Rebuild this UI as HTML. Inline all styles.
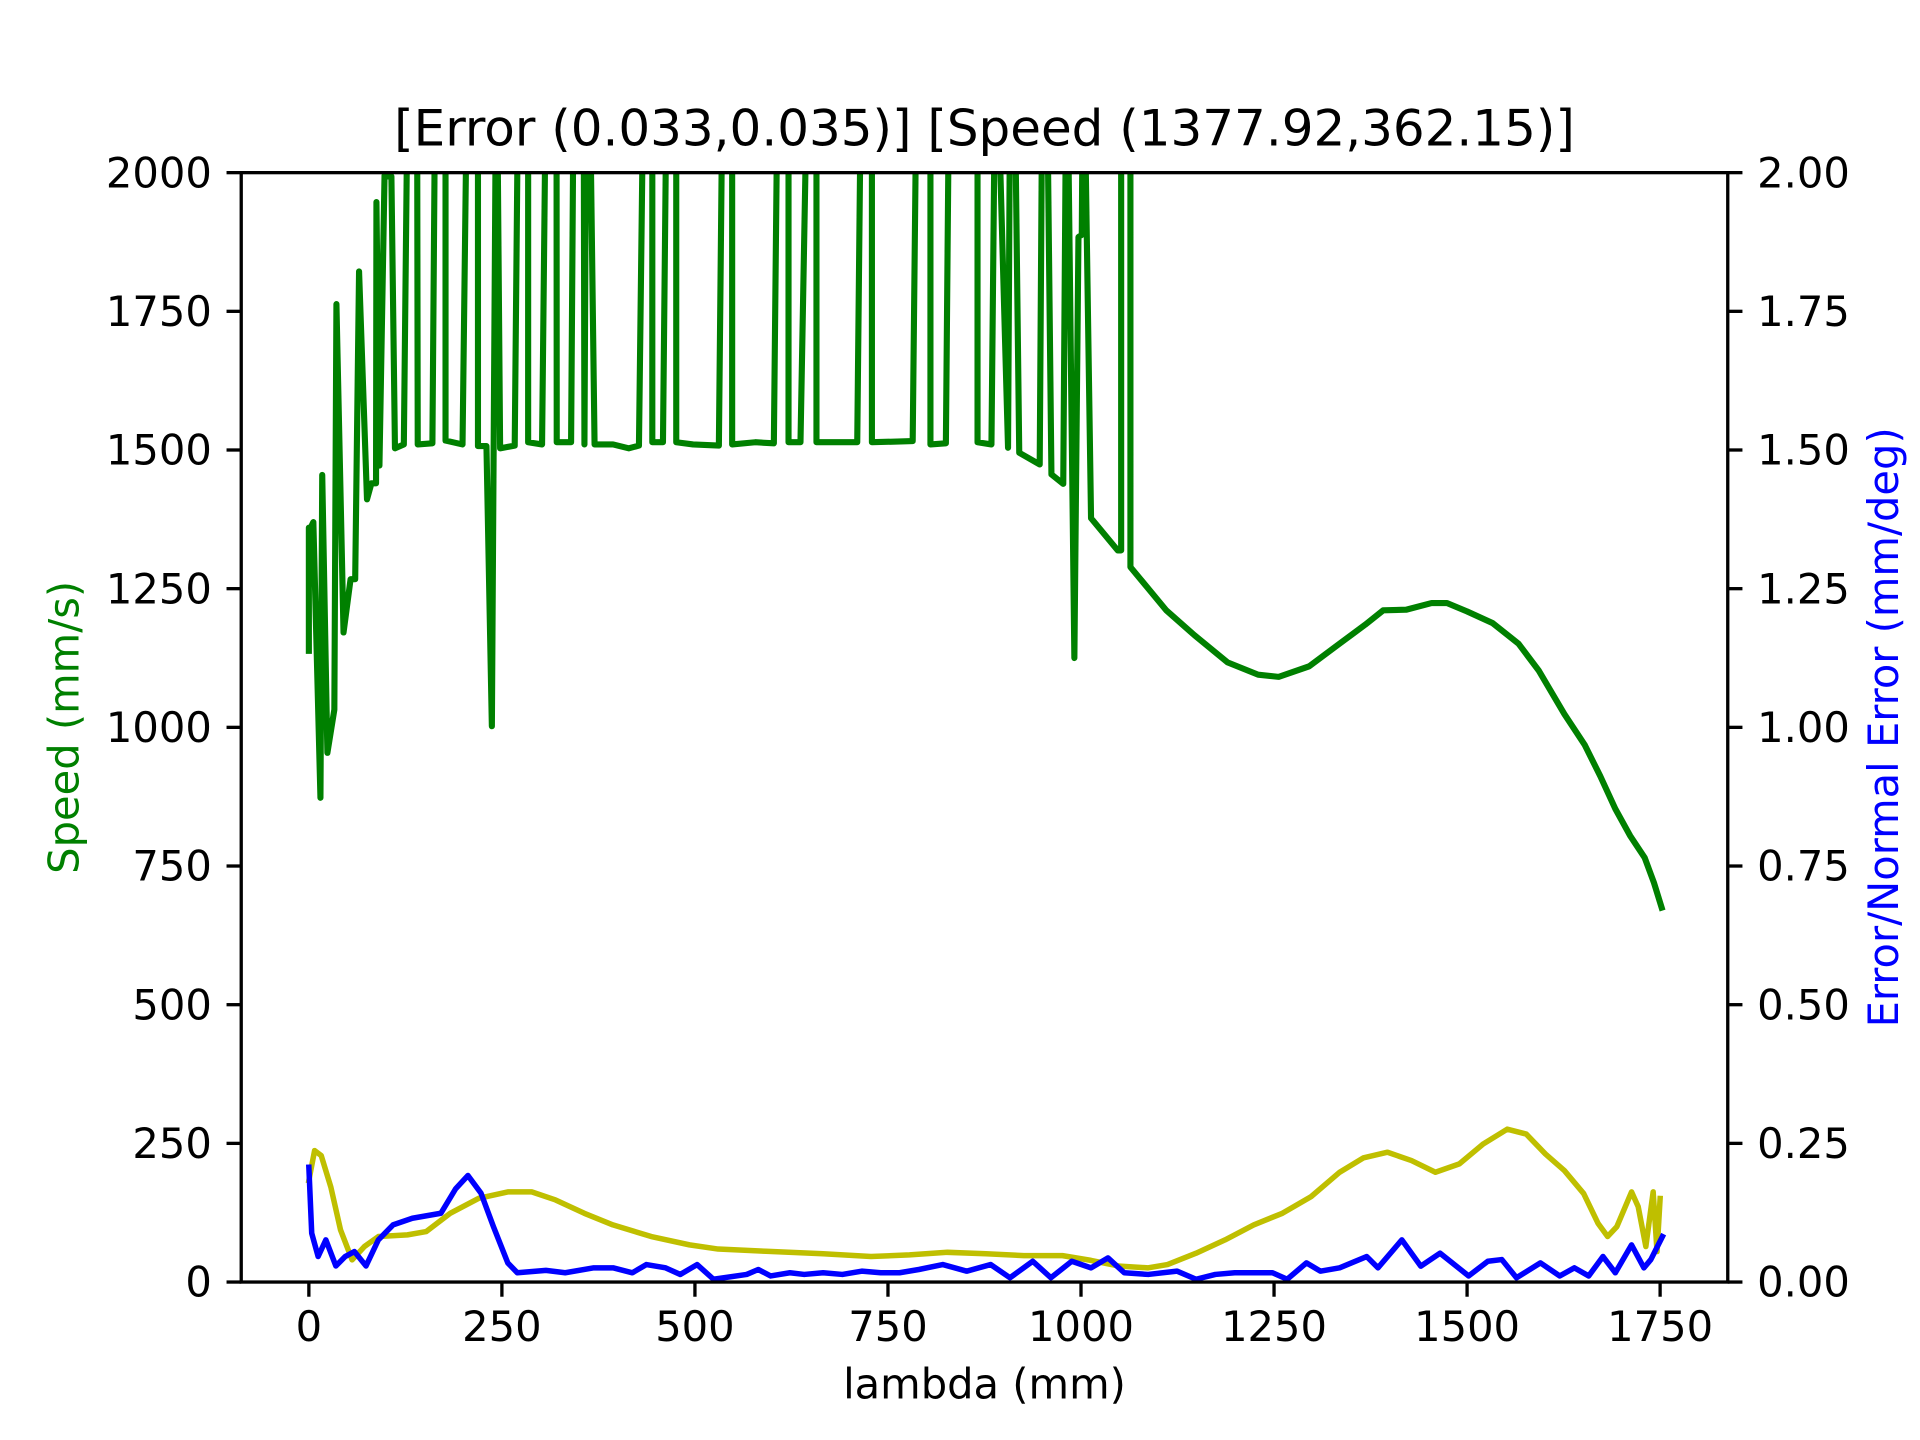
<!DOCTYPE html>
<html><head><meta charset="utf-8"><style>
html,body{margin:0;padding:0;background:#fff;}
svg{display:block;}
text{font-family:"DejaVu Sans","Liberation Sans",sans-serif;}
</style></head>
<body>
<svg id="chart" xmlns="http://www.w3.org/2000/svg" width="1920" height="1440" viewBox="0 0 1568 1176">
<defs><clipPath id="plotclip"><rect x="197" y="141" width="1214" height="906"/></clipPath></defs>
<rect x="0" y="0" width="1568" height="1176" fill="#fff"/>
<text x="804" y="119" font-size="40.8" text-anchor="middle">[Error (0.033,0.035)] [Speed (1377.92,362.15)]</text>
<g id="series" clip-path="url(#plotclip)"></g>
<g id="axes"></g>
<text x="804" y="1142" font-size="34" text-anchor="middle">lambda (mm)</text>
<text x="0" y="0" font-size="34" fill="#008000" text-anchor="middle" transform="translate(64,594) rotate(-90)">Speed (mm/s)</text>
<text x="0" y="0" font-size="34" fill="#0000ff" text-anchor="middle" transform="translate(1550,594) rotate(-90)">Error/Normal Error (mm/deg)</text>
</svg>
<script>
const xTicks = [0, 250, 500, 750, 1000, 1250, 1500, 1750];
const speedTicks = [0, 250, 500, 750, 1000, 1250, 1500, 1750, 2000];
const errorTicks = ["0.00","0.25","0.50","0.75","1.00","1.25","1.50","1.75","2.00"];
const speedLambda = [0,0,2.3,5.8,15,17.3,24,33,35.7,44.9,54,60,65,75.3,81,87,87.5,91.4,98,106.9,111.5,123,129,140,141,160,164.4,177,177,199,206,219,219,230,237,243,247.7,266.6,272,284,284,302,308,320.7,321,339.6,343.6,355.7,356.9,359.7,362.6,370,394,414.3,427.5,434.4,444.8,444.8,458.6,464.3,475.8,475.8,497.6,531,536.7,548.2,548.2,578.1,602.2,608,621.2,621.2,636.7,647,657.4,657.4,710.2,716,729.2,729.2,782,788,805,805,825,830,866,866,884,889.6,905.5,908.8,913,920,946.5,950.5,955,961.7,977,981.5,991.4,996.7,1001,1003,1013,1047.6,1052,1052,1064,1064,1110.4,1147,1190,1229.4,1256,1295.5,1335,1368,1391.4,1421,1454,1474,1500,1533,1566.5,1593,1626,1652.5,1672.5,1692,1711,1730,1742,1752];
const speedValues = [1138,1360,1360,1370,873,1455,954,1032,1763,1171,1267,1267,1822,1411,1440,1440,1947,1472,1995,1993,1503,1510,2300,2300,1510,1512,2300,2300,1517,1510,2300,2300,1507,1507,1002,2300,1503,1508,2300,2300,1514,1510,2300,2300,1514,1514,2300,2300,1510,2300,2300,1510,1510,1503,1508,2300,2300,1514,1514,2300,2300,1514,1510,1508,2300,2300,1510,1514,1512,2300,2300,1514,1514,2300,2300,1514,1514,2300,2300,1514,1516,2300,2300,1510,1512,2300,2300,1514,1510,2300,1504,2300,2300,1495,1474,2300,2300,1456,1439,2300,1125,1884,1888,2300,1377,1319,1319,2300,2300,1289,1211,1166,1117,1095,1091,1110,1151,1185,1211,1212,1224,1224,1209,1188,1151,1102,1024,968,912,853,805,765,720,675];
const normalLambda = [0,7.4,16,28.5,41,56,72,90,127.6,152,183,220,257.6,288.6,319.5,356.7,393.8,443.4,493,530,592,666,728,777.8,827,877,926,976,1013,1050,1087,1112,1149,1186.5,1223.6,1260.8,1298,1335,1366,1397,1428,1459,1490,1521,1552,1576.6,1601.4,1626,1651,1669.5,1682,1694,1713,1721.6,1731.5,1741,1746,1750];
const normalError = [0.183,0.237,0.228,0.171,0.094,0.040,0.064,0.082,0.085,0.091,0.124,0.151,0.1625,0.1625,0.148,0.124,0.103,0.082,0.067,0.0595,0.0554,0.051,0.046,0.049,0.0536,0.051,0.0476,0.0476,0.039,0.0286,0.0256,0.0315,0.052,0.076,0.103,0.124,0.154,0.198,0.224,0.234,0.219,0.198,0.213,0.249,0.2756,0.2667,0.231,0.201,0.1595,0.106,0.082,0.1,0.1625,0.136,0.064,0.1625,0.055,0.1506];
const errLambda = [0,3.7,12,22,35,47,59,74,90,109,134,171,190,206,223,239,257.6,270,307,332,369,394,419,437,462,481,502.8,524,567,582,598,623,641.5,666,691,716,740.6,765,790,821,852,883,908,937.5,961,988,1013,1035,1056,1087,1124.5,1149,1174,1199,1223.6,1248,1267,1292,1310,1335,1370,1384.6,1415.5,1440,1465,1502,1527,1545,1564,1595,1620,1639,1657.5,1676,1692,1713,1729,1738,1753];
const errValues = [0.207,0.088,0.046,0.076,0.029,0.046,0.055,0.029,0.076,0.103,0.115,0.124,0.168,0.192,0.16,0.1,0.0345,0.0167,0.021,0.0167,0.0256,0.0256,0.0167,0.0315,0.0256,0.0137,0.0315,0.005,0.0137,0.0226,0.011,0.0167,0.0137,0.0167,0.0137,0.0196,0.0167,0.0167,0.0226,0.0315,0.0196,0.0315,0.0077,0.0375,0.0077,0.0375,0.0256,0.0435,0.0167,0.0137,0.0196,0.005,0.0137,0.0167,0.0167,0.0167,0.005,0.0345,0.0196,0.0256,0.046,0.0256,0.076,0.0286,0.052,0.011,0.0375,0.0405,0.0077,0.0345,0.011,0.0256,0.011,0.046,0.0167,0.067,0.0256,0.0405,0.082];

const NS = "http://www.w3.org/2000/svg";
const L = 197, R = 1411, T = 141, B = 1047;
const xMin = -87.6, xMax = 1837.6;
function xs(v){ return L + (v - xMin) / (xMax - xMin) * (R - L); }
function ys(v){ return B - v / 2000 * (B - T); }
function ye(v){ return B - v / 2 * (B - T); }

const series = document.getElementById('series');
function line(xArr, yArr, yfn, color, w, name){
  const p = document.createElementNS(NS, 'path');
  let d = '';
  for (let i = 0; i < xArr.length; i++) d += (i ? 'L' : 'M') + xs(xArr[i]).toFixed(2) + ' ' + yfn(yArr[i]).toFixed(2);
  p.setAttribute('d', d);
  p.setAttribute('fill', 'none');
  p.setAttribute('stroke', color);
  p.setAttribute('stroke-width', w);
  p.setAttribute('stroke-linejoin', 'round');
  p.setAttribute('stroke-linecap', 'square');
  
  
  series.appendChild(p);
}
line(speedLambda, speedValues, ys, '#008000', 5, 'speed-line');
line(normalLambda, normalError, ye, '#bfbf00', 4.5, 'normal-error-line');
line(errLambda, errValues, ye, '#0000ff', 4.5, 'error-line');

const axes = document.getElementById('axes');
const frame = document.createElementNS(NS, 'rect');
frame.setAttribute('x', L); frame.setAttribute('y', T);
frame.setAttribute('width', R - L); frame.setAttribute('height', B - T);
frame.setAttribute('fill', 'none'); frame.setAttribute('stroke', '#000'); frame.setAttribute('stroke-width', 2.7);


axes.appendChild(frame);

function tick(x1, y1, x2, y2){
  const t = document.createElementNS(NS, 'line');
  t.setAttribute('x1', x1); t.setAttribute('y1', y1); t.setAttribute('x2', x2); t.setAttribute('y2', y2);
  t.setAttribute('stroke', '#000'); t.setAttribute('stroke-width', 2.7);
  
  
  axes.appendChild(t);
}
function label(x, y, s, anchor, name){
  const t = document.createElementNS(NS, 'text');
  t.setAttribute('x', x); t.setAttribute('y', y);
  t.setAttribute('font-size', 34); t.setAttribute('text-anchor', anchor);
  t.textContent = s;
  
  
  axes.appendChild(t);
}
xTicks.forEach(v => { const x = xs(v); tick(x, B, x, B + 12); label(x, B + 48, String(v), 'middle', 'x-tick-label'); });
speedTicks.forEach(v => { const y = ys(v); tick(L - 12, y, L, y); label(L - 24, y + 12, String(v), 'end', 'left-y-tick-label'); });
errorTicks.forEach(s => { const y = ye(parseFloat(s)); tick(R, y, R + 12, y); label(R + 24, y + 12, s, 'start', 'right-y-tick-label'); });
</script>
</body></html>
